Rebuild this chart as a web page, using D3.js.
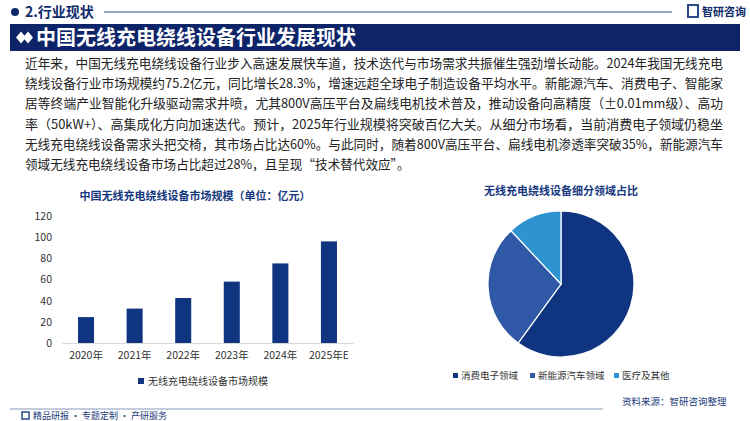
<!DOCTYPE html>
<html><head><meta charset="utf-8">
<script src="https://cdn.jsdelivr.net/npm/d3@7"></script>
<style>body{margin:0;background:#fff}svg{display:block;font-family:"Noto Sans CJK SC","Noto Sans",sans-serif}</style>
</head><body><svg id="c" width="750" height="421"></svg>
<script>
const years=["2020年","2021年","2022年","2023年","2024年","2025年E"];
const marketSize=[24.5,32.5,42.5,58,75.2,96];
const yTicks=[0,20,40,60,80,100,120];
const segments=["消费电子领域","新能源汽车领域","医疗及其他"];
const segShare=[60,28,12];
const segColors=["#0f3580","#2f58a6","#2d93d1"];
const para=["近年来，中国无线充电绕线设备行业步入高速发展快车道，技术迭代与市场需求共振催生强劲增长动能。2024年我国无线充电",
"绕线设备行业市场规模约75.2亿元，同比增长28.3%，增速远超全球电子制造设备平均水平。新能源汽车、消费电子、智能家",
"居等终端产业智能化升级驱动需求井喷，尤其800V高压平台及扁线电机技术普及，推动设备向高精度（±0.01mm级）、高功",
"率（50kW+）、高集成化方向加速迭代。预计，2025年行业规模将突破百亿大关。从细分市场看，当前消费电子领域仍稳坐",
"无线充电绕线设备需求头把交椅，其市场占比达60%。与此同时，随着800V高压平台、扁线电机渗透率突破35%，新能源汽车",
"领域无线充电绕线设备市场占比超过28%，且呈现“技术替代效应”。"];
const svg=d3.select("#c");
const navy="#0f2a6b";
svg.append("circle").attr("cx",15).attr("cy",12).attr("r",4).attr("fill",navy);
svg.append("text").attr("x",25).attr("y",17).text("2.行业现状").attr("font-size",14).attr("font-weight","bold").attr("fill",navy);
svg.append("line").attr("x1",104).attr("x2",672).attr("y1",12).attr("y2",12).attr("stroke","#34477f").attr("stroke-width",1);
svg.append("text").attr("x",702).attr("y",16).text("智研咨询").attr("font-size",11).attr("font-weight","bold").attr("fill",navy);
svg.append("rect").attr("x",688).attr("y",5).attr("width",10).attr("height",12).attr("fill","none").attr("stroke","#2a4a8c").attr("stroke-width",2);
svg.append("rect").attr("x",10).attr("y",24).attr("width",730).attr("height",27).attr("fill","#0d2468");
svg.append("path").attr("d","M16,37.5 l5,-6 l5,6 l-5,6z M23,37.5 l5,-6 l5,6 l-5,6z").attr("fill","#fff");
svg.append("text").attr("x",36).attr("y",45).text("中国无线充电绕线设备行业发展现状").attr("font-size",20).attr("font-weight","bold").attr("fill","#fff");
para.forEach((l,i)=>{const t=svg.append("text").attr("x",25).attr("y",68+i*20.2).text(l).attr("font-size",12.6).attr("fill","#222");
 if(i<5) t.attr("textLength",698).attr("lengthAdjust","spacingAndGlyphs");});
svg.append("text").attr("x",195).attr("y",200).attr("text-anchor","middle").text("中国无线充电绕线设备市场规模（单位：亿元）").attr("font-size",11).attr("font-weight","bold").attr("fill","#16387e");
const x=d3.scaleBand().domain(years).range([62,353]).paddingInner(0.67).paddingOuter(0.33);
const y=d3.scaleLinear().domain([0,120]).range([343,216]);
const ya=svg.append("g").attr("transform","translate(52,0)").call(d3.axisLeft(y).tickValues(yTicks).tickSize(0).tickPadding(0));
ya.select(".domain").remove();
ya.selectAll("text").attr("font-size",10.5).attr("fill","#333").attr("font-family","Noto Sans CJK SC");
const xa=svg.append("g").attr("transform","translate(0,343)").call(d3.axisBottom(x).tickSize(0).tickPadding(9));
xa.select(".domain").attr("stroke","#d9d9d9");
xa.selectAll("text").attr("font-size",10.5).attr("fill","#333").attr("font-family","Noto Sans CJK SC");
svg.selectAll(".bar").data(marketSize).join("rect").attr("x",(d,i)=>x(years[i])).attr("width",x.bandwidth())
 .attr("y",d=>y(d)).attr("height",d=>y(0)-y(d)).attr("fill","#0f3580");
svg.append("rect").attr("x",138).attr("y",378).attr("width",6).attr("height",6).attr("fill","#0f3580");
svg.append("text").attr("x",148).attr("y",384.5).text("无线充电绕线设备市场规模").attr("font-size",10).attr("fill","#333");
svg.append("text").attr("x",561).attr("y",195).attr("text-anchor","middle").text("无线充电绕线设备细分领域占比").attr("font-size",11).attr("font-weight","bold").attr("fill","#16387e");
const pie=d3.pie().sort(null)(segShare);
const arc=d3.arc().innerRadius(0).outerRadius(73);
svg.append("g").attr("transform","translate(561,284)").selectAll("path").data(pie).join("path")
 .attr("d",arc).attr("fill",(d,i)=>segColors[i]).attr("stroke","#fff").attr("stroke-width",1.2);
const lx=[453,530,614];
segments.forEach((s,i)=>{svg.append("rect").attr("x",lx[i]).attr("y",373).attr("width",5).attr("height",5).attr("fill",segColors[i]);
 svg.append("text").attr("x",lx[i]+8).attr("y",379).text(s).attr("font-size",9.5).attr("fill","#333");});
svg.append("line").attr("x1",10).attr("x2",603).attr("y1",409).attr("y2",409).attr("stroke","#8a9ac0").attr("stroke-width",1.2);
svg.append("text").attr("x",622).attr("y",405).text("资料来源：智研咨询整理").attr("font-size",9.5).attr("fill","#1d3a7a");
svg.append("rect").attr("x",22).attr("y",412).attr("width",7).attr("height",7).attr("fill","none").attr("stroke","#2a4a8c").attr("stroke-width",1.5);
svg.append("text").attr("x",33).attr("y",419).text("精品研报 · 专题定制 · 产研服务").attr("font-size",9).attr("fill","#1d3a7a");
</script></body></html>
